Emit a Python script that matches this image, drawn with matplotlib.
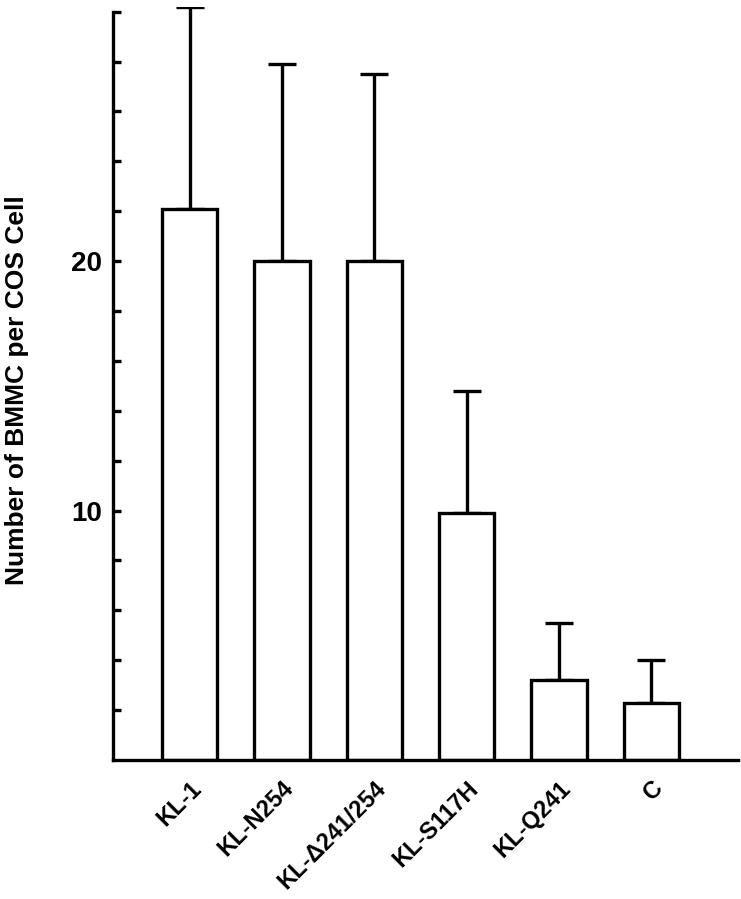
import matplotlib
matplotlib.use('Agg')
import matplotlib.pyplot as plt
import numpy as np

plt.rcParams['font.family'] = ['Liberation Sans', 'DejaVu Sans']
plt.rcParams['font.weight'] = 'bold'

# ── Données ──
labels = ['KL-1', 'KL-N254', 'KL-Δ241/254', 'KL-S117H', 'KL-Q241', 'C']
means  = [22.1, 20.0, 20.0, 9.9, 3.2, 2.3]
upper  = [8.1, 7.9, 7.5, 4.9, 2.3, 1.7]

INK = '#000000'
LW = 2.4

fig = plt.figure(figsize=(7.41, 8.99), dpi=100)
ax = fig.add_axes([0.1525, 0.1546, 0.8435, 0.838])

x = np.arange(len(labels))
ax.bar(x, means, width=0.6, facecolor='white', edgecolor=INK, linewidth=LW, zorder=2)
ax.errorbar(x, means, yerr=[np.zeros(len(upper)), upper], fmt='none',
            ecolor=INK, elinewidth=LW, capsize=10, capthick=LW, zorder=1)

ax.set_xlim(-0.83, 5.94)
ax.set_ylim(0, 30.2)

for s in ['top', 'right']:
    ax.spines[s].set_visible(False)
ax.spines['left'].set_bounds(0, 30)
for s in ['left', 'bottom']:
    ax.spines[s].set_linewidth(LW)
    ax.spines[s].set_color(INK)

ax.set_yticks(np.arange(2, 31, 2))
ax.set_yticklabels(['10' if v == 10 else '20' if v == 20 else '' for v in range(2, 31, 2)])
ax.tick_params(axis='y', direction='in', length=6, width=LW, color=INK,
               labelsize=20, pad=8)

ax.set_xticks(x)
ax.set_xticklabels(labels, rotation=45, ha='right', va='top',
                   rotation_mode='anchor', fontsize=17)
ax.tick_params(axis='x', length=0, pad=12)

ax.set_ylabel('Number of BMMC per COS Cell', fontsize=19, fontweight='bold')
ax.yaxis.set_label_coords(-0.134, 0.491)

fig.savefig('out.png', dpi=100, facecolor='white')
